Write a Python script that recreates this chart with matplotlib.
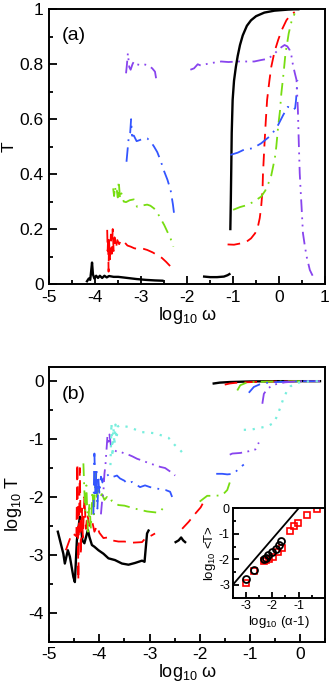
import numpy as np
import matplotlib
matplotlib.use("Agg")
import matplotlib.pyplot as plt
from matplotlib.ticker import MultipleLocator, FuncFormatter

nan = np.nan

# ---- panel (a): T vs log10 omega ----
a_black_x = [-4.18, -4.14, -4.11, -4.09, -4.07, -4.05, -4.02, -3.98, -3.94, -3.9, -3.85, -3.8, -3.75, -3.7, -3.6,
             -3.5, -3.3, -3.1, -2.9, -2.7, -2.54, nan,
             -1.63, -1.5, -1.35, -1.2, -1.12, -1.08, nan,
             -1.06, -1.05, -1.04, -1.03, -1.01, -0.98, -0.94, -0.9, -0.85, -0.79, -0.7, -0.61, -0.5, -0.32, -0.1,
             0.05, 0.2, 0.34, 0.42]
a_black_y = [0.01, 0.02, 0.015, 0.045, 0.078, 0.035, 0.02, 0.03, 0.022, 0.03, 0.022, 0.03, 0.024, 0.029, 0.026,
             0.026, 0.022, 0.018, 0.015, 0.013, 0.012, nan,
             0.027, 0.025, 0.025, 0.027, 0.032, 0.036, nan,
             0.2, 0.3, 0.42, 0.55, 0.67, 0.74, 0.79, 0.83, 0.87, 0.905, 0.94, 0.96, 0.975, 0.988, 0.995,
             0.997, 0.999, 1.0, 1.0]

a_red_x = [-3.74, -3.73, -3.72, -3.71, -3.7, -3.68, -3.66, -3.64, -3.62, -3.6, -3.58, -3.55, -3.52, -3.48, -3.44,
           -3.38, -3.3, -3.23, -3.15, -3.08, -3.01, -2.95, -2.87, -2.75, -2.65, -2.55, -2.46, -2.38, -2.29, nan,
           -1.12, -0.98, -0.83, -0.7, -0.61, -0.52, -0.46, -0.42, -0.39, -0.36, -0.35, -0.32, -0.29, -0.26,
           -0.21, -0.17, -0.1, -0.02, 0.06, 0.16, 0.25, 0.34]
a_red_y = [0.197, 0.12, 0.17, 0.045, 0.16, 0.09, 0.18, 0.11, 0.2, 0.12, 0.17, 0.13, 0.16, 0.145, 0.16,
           0.155, 0.14, 0.136, 0.13, 0.128, 0.13, 0.128, 0.124, 0.115, 0.105, 0.095, 0.081, 0.067, 0.051, nan,
           0.144, 0.143, 0.148, 0.155, 0.166, 0.185, 0.209, 0.24, 0.28, 0.34, 0.40, 0.5, 0.59, 0.67,
           0.74, 0.79, 0.845, 0.888, 0.925, 0.96, 0.98, 0.99]

a_green_x = [-3.61, -3.59, -3.57, -3.55, -3.53, -3.51, -3.49, -3.46, -3.43, -3.38, -3.33, -3.25, -3.16, -3.09,
             -3.0, -2.87, -2.8, -2.72, -2.65, -2.58, -2.5, -2.43, -2.36, -2.3, nan,
             -1.0, -0.97, -0.85, -0.68, -0.55, -0.39, -0.3, -0.23, -0.17, -0.13, -0.09, -0.06, -0.02, 0.02,
             0.05, 0.1, 0.14, 0.18, 0.21, 0.27, 0.34]
a_green_y = [0.348, 0.32, 0.355, 0.33, 0.34, 0.315, 0.375, 0.31, 0.33, 0.3, 0.298, 0.305, 0.308, 0.281,
             0.285, 0.289, 0.285, 0.275, 0.26, 0.239, 0.215, 0.19, 0.165, 0.136, nan,
             0.27, 0.272, 0.28, 0.288, 0.3, 0.318, 0.34, 0.367, 0.395, 0.427, 0.46, 0.5, 0.573, 0.63,
             0.694, 0.77, 0.84, 0.88, 0.912, 0.955, 0.985]

a_blue_x = [-3.32, -3.29, -3.27, -3.24, -3.22, -3.2, -3.16, -3.1, -3.03, -2.95, -2.87, -2.8, -2.72, -2.65,
            -2.58, -2.5, -2.43, -2.36, -2.31, -2.28, nan,
            -1.06, -0.9, -0.75, -0.57, -0.39, -0.17, -0.02, 0.09, 0.19, 0.25, 0.3, 0.35, 0.37, 0.39, 0.4]
a_blue_y = [0.445, 0.5, 0.536, 0.55, 0.6, 0.54, 0.54, 0.52, 0.524, 0.53, 0.53, 0.52, 0.5, 0.48,
            0.45, 0.41, 0.38, 0.342, 0.29, 0.25, nan,
            0.47, 0.478, 0.49, 0.494, 0.512, 0.542, 0.579, 0.615, 0.645, 0.64, 0.633, 0.64, 0.67, 0.72, 0.742]

a_purple_x = [-3.33, -3.31, -3.29, -3.26, -3.23, -3.19, -3.16, -3.1, -3.02, -2.95, -2.87, -2.8, -2.76, -2.7,
              -2.67, nan,
              -1.93, -1.85, -1.77, -1.7, -1.6, -1.45, -1.26, -1.1, -0.9, -0.7, -0.54, -0.4, -0.24, -0.12, -0.02,
              0.05, 0.12, 0.18, 0.23, 0.27, 0.3, 0.34, 0.38, 0.41, 0.43, 0.45, 0.47, 0.49, 0.52, 0.56, 0.6,
              0.67, 0.74]
a_purple_y = [0.767, 0.8, 0.84, 0.79, 0.78, 0.8, 0.81, 0.8, 0.797, 0.8, 0.797, 0.79, 0.785, 0.773,
              0.743, nan,
              0.78, 0.785, 0.8, 0.795, 0.8, 0.805, 0.81, 0.808, 0.81, 0.81, 0.81, 0.815, 0.82, 0.835, 0.852,
              0.862, 0.87, 0.865, 0.852, 0.83, 0.8, 0.77, 0.743, 0.633, 0.512, 0.403, 0.34, 0.281, 0.185,
              0.14, 0.1, 0.051, 0.027]

# ---- panel (b): log10 T vs log10 omega ----
b_black_x = [-4.83, -4.72, -4.69, -4.63, -4.59, -4.52, -4.49, -4.45, -4.39, -4.34, -4.30, -4.23, -4.20, -4.15,
             -4.10, -4.02, -3.92, -3.82, -3.69, -3.55, -3.42, -3.29, -3.15, -3.10, -3.05, -3.02, nan,
             -2.48, -2.42, -2.37, -2.33, -2.29, nan,
             -1.72, -1.6, -1.4, -1.2, -1.0, -0.5, 0.0, 0.4]
b_black_y = [-2.6, -2.98, -3.15, -2.92, -3.03, -3.38, -3.47, -2.75, -2.34, -2.75, -2.8, -2.57, -2.69, -2.83,
             -2.86, -2.92, -2.98, -3.06, -3.09, -3.15, -3.17, -3.14, -3.1, -3.12, -2.63, -2.58, nan,
             -2.78, -2.75, -2.70, -2.75, -2.78, nan,
             -0.04, -0.025, -0.015, -0.01, -0.005, 0, 0, 0]

b_red_x = [-4.67, -4.62, -4.55, -4.5, -4.46, -4.44, -4.42, -4.41, -4.39, -4.37, -4.35, -4.33, -4.3, -4.27,
           -4.24, -4.2, -4.15, -4.1, -4.05, -4.0, -3.92, -3.84, -3.75, -3.62, -3.5, -3.35, -3.15, -3.09, -2.95,
           -2.89, nan,
           -2.35, -2.22, -2.1, -1.98, -1.9, nan,
           -1.5, -1.4, -1.3, -1.1, -0.8, -0.4, 0.0, 0.4]
b_red_y = [-2.92, -2.8, -2.63, -2.65, -2.68, -1.42, -3.44, -2.6, -1.5, -3.0, -2.2, -2.7, -2.0, -2.55,
           -2.3, -2.5, -2.4, -2.6, -2.5, -2.62, -2.71, -2.7, -2.75, -2.77, -2.77, -2.79, -2.78, -2.72, -2.66,
           -2.63, nan,
           -2.55, -2.43, -2.3, -2.18, -2.05, nan,
           -0.06, -0.04, -0.03, -0.02, -0.01, -0.005, 0, 0]

b_green_x = [-4.32, -4.3, -4.28, -4.26, -4.23, -4.2, -4.17, -4.14, -4.11, -4.08, -4.05, -4.02, -3.99, -3.95,
             -3.9, -3.85, -3.8, -3.75, -3.7, -3.62, -3.5, -3.42, -3.3, -3.15, -3.05, -2.95, -2.85, -2.78,
             -2.74, -2.72, nan,
             -2.0, -1.85, -1.7, -1.55, -1.45, -1.4, nan,
             -1.25, -1.19, -1.05, -0.8, -0.4, 0.0, 0.4]
b_green_y = [-1.42, -1.9, -2.25, -1.8, -2.6, -2.1, -2.55, -1.9, -2.3, -1.6, -2.0, -1.8, -2.0, -1.95,
             -2.05, -2.0, -2.08, -2.06, -2.1, -2.14, -2.15, -2.17, -2.2, -2.23, -2.25, -2.26, -2.27, -2.25,
             -2.2, -2.1, nan,
             -2.08, -1.98, -1.98, -1.97, -1.88, -1.75, nan,
             -0.16, -0.07, -0.02, -0.01, -0.005, 0, 0]

b_blue_x = [-4.12, -4.1, -4.08, -4.06, -4.04, -4.02, -4.0, -3.97, -3.94, -3.9, -3.85, -3.79, -3.72, -3.65,
            -3.59, -3.5, -3.45, -3.35, -3.19, -3.09, -2.99, -2.82, -2.68, -2.59, -2.55, nan,
            -1.67, -1.55, -1.45, -1.32, -1.22, -1.12, nan,
            -1.02, -0.92, -0.79, -0.6, -0.3, 0.0, 0.4]
b_blue_y = [-2.3, -1.25, -2.0, -1.5, -2.2, -1.7, -1.95, -1.65, -1.75, -1.62, -1.6, -1.67, -1.65, -1.63,
            -1.68, -1.72, -1.77, -1.74, -1.83, -1.8, -1.83, -1.86, -1.88, -1.91, -2.0, nan,
            -1.6, -1.6, -1.61, -1.6, -1.51, -1.44, nan,
            -0.2, -0.1, -0.05, -0.02, -0.01, 0, 0]

b_purple_x = [-3.97, -3.95, -3.92, -3.9, -3.88, -3.86, -3.84, -3.82, -3.8, -3.77, -3.72, -3.65, -3.58, -3.5,
              -3.42, -3.34, -3.25, -3.15, -3.0, -2.89, -2.79, -2.69, -2.59, -2.53, -2.49, nan,
              -1.4, -1.35, -1.19, -1.02, -0.89, -0.82, nan,
              -0.75, -0.72, -0.65, -0.52, -0.3, 0.0, 0.4]
b_purple_y = [-2.3, -2.1, -1.9, -1.6, -1.45, -1.2, -0.95, -1.1, -0.92, -1.12, -1.18, -1.22, -1.22, -1.25,
              -1.27, -1.3, -1.34, -1.37, -1.42, -1.45, -1.48, -1.5, -1.56, -1.6, -1.63, nan,
              -1.27, -1.25, -1.24, -1.21, -1.18, -1.06, nan,
              -0.39, -0.22, -0.13, -0.06, -0.02, 0, 0]

b_cyan_x = [-3.78, -3.76, -3.74, -3.72, -3.7, -3.68, -3.66, -3.63, -3.59, -3.5, -3.42, -3.3, -3.15, -3.0,
            -2.89, -2.75, -2.62, -2.5, -2.4, -2.33, -2.29, nan,
            -1.12, -0.99, -0.82, -0.65, -0.52, -0.45, -0.39, -0.33, -0.27, -0.19, -0.07, 0.1, 0.25, 0.4]
b_cyan_y = [-1.45, -0.72, -1.3, -0.8, -1.1, -0.75, -1.0, -0.78, -0.76, -0.78, -0.79, -0.83, -0.88, -0.89,
            -0.9, -0.94, -0.98, -1.1, -1.18, -1.25, -1.31, nan,
            -0.84, -0.84, -0.81, -0.78, -0.72, -0.59, -0.45, -0.30, -0.19, -0.09, -0.03, -0.01, 0, 0]

# ---- inset: log10 <T> vs log10 (alpha-1) ----
ins_circ_x = [-2.98, -2.7, -2.3, -2.25, -2.15, -2.0, -1.85, -1.75, -1.65]
ins_circ_y = [-2.77, -2.4, -1.97, -1.95, -1.82, -1.72, -1.6, -1.45, -1.28]
ins_sq_x = [-2.98, -2.7, -2.3, -2.25, -2.12, -1.97, -1.8, -1.64, -1.33, -1.16, -1.01, -0.69, -0.31]
ins_sq_y = [-2.93, -2.45, -2.06, -2.02, -2.0, -1.89, -1.73, -1.56, -0.88, -0.69, -0.56, -0.26, -0.04]
ins_line_x = [-3.5, -1.0]
ins_line_y = [-3.0, 0.0]

plt.rcParams['font.family'] = ['Liberation Sans', 'DejaVu Sans']
plt.rcParams['mathtext.fontset'] = 'custom'
plt.rcParams['mathtext.rm'] = 'Liberation Sans'
plt.rcParams['mathtext.it'] = 'Liberation Sans:italic'

RED = '#ff0000'
GREEN = '#77dd11'
BLUE = '#3355ff'
PURPLE = '#8844ee'
CYAN = '#77eedd'

s_red = (0, (7, 4))
s_green = (0, (7, 3.5, 1, 3.5))
s_blue = (0, (8, 3.5, 1, 3.5))
s_purple = (0, (7, 3, 1, 3, 1, 3))
s_cyan = (0, (1, 3))


def fmt(v, pos):
    if abs(v) < 1e-9:
        return '0'
    return '%g' % v


def style_axes(ax, fs=12.5):
    for sp in ax.spines.values():
        sp.set_linewidth(1.4)
    ax.tick_params(which='both', direction='in', top=False, right=False, width=1.3, labelsize=fs, pad=4)
    ax.tick_params(which='major', length=6)
    ax.tick_params(which='minor', length=3)


fig = plt.figure(figsize=(3.32, 6.91), dpi=100)

ax_a = fig.add_axes([49.3 / 332, 1 - 284 / 691, 275.7 / 332, 274.7 / 691])
lw = 1.3
ax_a.plot(a_black_x, a_black_y, color='black', lw=1.7)
ax_a.plot(a_red_x, a_red_y, color=RED, lw=lw, ls=s_red)
ax_a.plot(a_green_x, a_green_y, color=GREEN, lw=lw, ls=s_green)
ax_a.plot(a_blue_x, a_blue_y, color=BLUE, lw=lw, ls=s_blue)
ax_a.plot(a_purple_x, a_purple_y, color=PURPLE, lw=lw, ls=s_purple)
ax_a.set_xlim(-5, 1)
ax_a.set_ylim(0, 1)
ax_a.xaxis.set_major_locator(MultipleLocator(1))
ax_a.xaxis.set_minor_locator(MultipleLocator(0.5))
ax_a.yaxis.set_major_locator(MultipleLocator(0.2))
ax_a.yaxis.set_minor_locator(MultipleLocator(0.1))
ax_a.xaxis.set_major_formatter(FuncFormatter(fmt))
ax_a.yaxis.set_major_formatter(FuncFormatter(fmt))
style_axes(ax_a)
ax_a.set_xlabel(r'log$_{\mathregular{10}}$ ω', fontsize=13, labelpad=0)
ax_a.set_ylabel('T', fontsize=12.5, labelpad=2)
ax_a.text(0.045, 0.905, '(a)', transform=ax_a.transAxes, fontsize=14, ha='left', va='center')

ax_b = fig.add_axes([49.3 / 332, 1 - 641.7 / 691, 275.7 / 332, 275 / 691])
ax_b.plot(b_black_x, b_black_y, color='black', lw=1.7)
ax_b.plot(b_red_x, b_red_y, color=RED, lw=lw, ls=s_red)
ax_b.plot(b_green_x, b_green_y, color=GREEN, lw=lw, ls=s_green)
ax_b.plot(b_blue_x, b_blue_y, color=BLUE, lw=lw, ls=s_blue)
ax_b.plot(b_purple_x, b_purple_y, color=PURPLE, lw=lw, ls=s_purple)
ax_b.plot(b_cyan_x, b_cyan_y, color=CYAN, lw=1.6, ls=s_cyan)
ax_b.set_xlim(-5, 0.5)
ax_b.set_ylim(-4.5, 0.25)
ax_b.xaxis.set_major_locator(MultipleLocator(1))
ax_b.xaxis.set_minor_locator(MultipleLocator(0.5))
ax_b.yaxis.set_major_locator(MultipleLocator(1))
ax_b.yaxis.set_minor_locator(MultipleLocator(0.5))
ax_b.xaxis.set_major_formatter(FuncFormatter(fmt))
ax_b.yaxis.set_major_formatter(FuncFormatter(fmt))
style_axes(ax_b)
ax_b.set_xlabel(r'log$_{\mathregular{10}}$ ω', fontsize=13, labelpad=0)
ax_b.set_ylabel(r'log$_{\mathregular{10}}$ T', fontsize=13, labelpad=3)
ax_b.text(0.045, 0.90, '(b)', transform=ax_b.transAxes, fontsize=14, ha='left', va='center')

ax_in = fig.add_axes([232.7 / 332, 1 - 597.7 / 691, 92.3 / 332, 89.4 / 691])
ax_in.plot(ins_line_x, ins_line_y, color='black', lw=1.3)
ax_in.plot(ins_sq_x, ins_sq_y, ls='none', marker='s', ms=4.8, mfc='none', mec=RED, mew=1.2)
ax_in.plot(ins_circ_x, ins_circ_y, ls='none', marker='o', ms=5, mfc='none', mec='black', mew=1.3)
ax_in.set_xlim(-3.5, 0)
ax_in.set_ylim(-3.5, 0)
ax_in.set_xticks([-3, -2, -1])
ax_in.set_yticks([-3, -2, -1, 0])
ax_in.xaxis.set_minor_locator(MultipleLocator(0.5))
ax_in.yaxis.set_minor_locator(MultipleLocator(0.5))
ax_in.xaxis.set_major_formatter(FuncFormatter(fmt))
ax_in.yaxis.set_major_formatter(FuncFormatter(fmt))
style_axes(ax_in, fs=9)
ax_in.tick_params(which='major', length=4, pad=2)
ax_in.tick_params(which='minor', length=2)
ax_in.set_xlabel(r'log$_{\mathregular{10}}$ (α-1)', fontsize=9.5, labelpad=1)
ax_in.set_ylabel(r'log$_{\mathregular{10}}$ <T>', fontsize=9.5, labelpad=1)

fig.savefig('out.png', dpi=100)
